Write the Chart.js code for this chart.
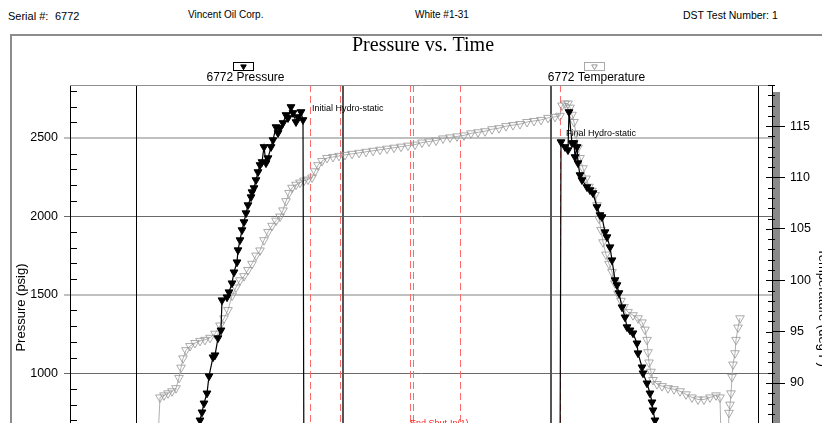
<!DOCTYPE html>
<html>
<head>
<meta charset="utf-8">
<title>Pressure vs. Time</title>
<script src="https://cdn.jsdelivr.net/npm/chart.js@4.4.1/dist/chart.umd.min.js"></script>
<style>
  html, body { margin: 0; padding: 0; background: #fff; }
  body { width: 822px; height: 423px; overflow: hidden; position: relative; }
  .head { position: absolute; top: 10px; line-height: 1; white-space: pre; color: #000;
          font-family: 'Liberation Sans Narrow', 'Liberation Sans', Arial, sans-serif; font-size: 10px; }
  #frame { position: absolute; left: 10px; top: 34px; width: 840px; height: 600px;
           border-left: 2px solid #8c8c8c; border-top: 2px solid #8c8c8c; }
  #chart { position: absolute; left: 0; top: 0; }
</style>
</head>
<body>
<div class="head" style="left:8px; top:11px; font-size:11px">Serial #:</div>
<div class="head" style="left:55px; top:11px; font-size:11px">6772</div>
<div class="head" style="left:188px">Vincent Oil Corp.</div>
<div class="head" style="left:415px">White #1-31</div>
<div class="head" style="left:683px; font-size:10.5px">DST Test Number: 1</div>
<div id="frame"><canvas id="chart" width="822" height="560"></canvas></div>
<script>
// time in minutes from start of the test
const pressTime = [0, 100, 125, 130, 132, 134, 137, 139, 143, 145, 148, 151, 152, 157, 159, 162, 164, 167, 168,
  170, 172, 174, 176, 178, 181, 182, 184, 186, 188, 190, 192, 194, 196, 198, 201, 203, 206, 208, 210, 213,
  216, 218, 221, 223, 226, 228, 231, 233, 234, 270, 340, 390, 481, 490,
  491, 495, 498, 499, 502, 504, 505, 507, 508, 510, 512, 517, 520, 523, 527, 530, 532, 535, 537, 540, 542,
  545, 547, 549, 552, 555, 557, 560, 563, 567, 568, 572, 573, 577, 580, 582, 583, 585, 600, 660, 702];
const pressPsig = [14, 300, 560, 700, 751, 808, 872, 981, 1102, 1115, 1224, 1274, 1466, 1485, 1517, 1574, 1644, 1708, 1785,
  1849, 1913, 1964, 2021, 2072, 2123, 2155, 2181, 2232, 2283, 2328, 2347, 2443, 2340, 2372, 2443, 2487, 2570, 2532, 2564, 2596,
  2647, 2628, 2698, 2660, 2602, 2634, 2666, 2615, 150, 240, 520, 610, 630, 330,
  2474, 2443, 2423, 2666, 2468, 2468, 2379, 2443, 2340, 2264, 2232, 2187, 2168, 2149, 2060, 2009, 1996, 1900, 1868, 1804, 1721,
  1594, 1562, 1511, 1421, 1357, 1294, 1274, 1255, 1191, 1128, 1038, 1000, 936, 872, 815, 764, 700, 420, 60, 15];

const tempTime = [88, 90, 94, 98, 102, 106, 109, 111, 113, 116, 120, 125, 130, 135, 140, 145, 150, 154, 158, 162,
  166, 170, 174, 178, 182, 186, 190, 194, 198, 202, 206, 210, 213, 216, 219, 222, 226, 230, 234, 238,
  242, 245, 248, 252, 257, 263, 269, 275, 282, 289, 296, 303, 310, 317, 324, 331, 338, 345, 352, 359,
  366, 373, 380, 387, 394, 401, 408, 415, 422, 429, 436, 443, 450, 457, 464, 471, 478, 485, 490, 492,
  495, 498, 500, 502, 504, 506, 508, 510, 513, 516, 519, 522, 525, 527, 529, 531, 533, 536, 539, 542,
  545, 548, 551, 554, 558, 563, 568, 572, 575, 577, 578, 579, 581, 583, 587, 592, 598, 604, 610, 616,
  622, 628, 634, 640, 646, 650, 651, 654, 658, 659, 660, 661, 662, 663, 665, 666, 668, 670];
const tempDegF = [84.5, 88.6, 88.8, 89.0, 89.2, 89.5, 90.5, 91.5, 92.4, 93.2, 93.6, 93.9, 94.1, 94.2, 94.4, 94.8, 95.6, 96.3, 97.1, 98.5,
  99.3, 100.0, 100.4, 101.0, 101.6, 102.4, 102.9, 103.9, 104.7, 105.3, 105.8, 106.2, 106.8, 107.7, 108.5, 109.0, 109.3, 109.5, 109.7, 109.8,
  110.0, 110.6, 111.2, 111.6, 111.9, 112.0, 112.1, 112.2, 112.3, 112.4, 112.5, 112.6, 112.7, 112.8, 112.9, 113.0, 113.1, 113.2, 113.4, 113.5,
  113.6, 113.8, 113.9, 114.0, 114.1, 114.3, 114.4, 114.5, 114.7, 114.8, 115.0, 115.1, 115.2, 115.4, 115.5, 115.6, 115.8, 115.9, 116.0, 117.0,
  117.2, 117.2, 116.8, 116.1, 115.4, 114.3, 112.9, 111.9, 110.9, 109.9, 109.1, 108.7, 108.3, 107.3, 106.0, 104.9, 103.7, 102.5, 101.6, 100.8,
  99.7, 98.7, 98.0, 97.4, 96.9, 96.6, 96.3, 95.9, 95.2, 94.2, 93.0, 92.0, 91.1, 90.3, 89.9, 89.7, 89.5, 89.4, 89.2, 88.9,
  88.6, 88.4, 88.4, 88.6, 88.8, 88.6, 84.5, 80.0, 84.5, 87.1, 87.9, 89.0, 90.6, 91.8, 92.9, 94.2, 95.4, 96.3];

const pressLabels = [0, 500, 1000, 1500, 2000, 2500];
const tempLabels = [80, 85, 90, 95, 100, 105, 110, 115];

// test events (minutes)
const eventTime = [66, 240, 270, 273, 340, 343, 390, 481, 490, 688];
const eventKind = ['tool', 'period', 'period', 'valve', 'period', 'period', 'period', 'valve', 'period', 'tool'];

const noteText = ['Initial Hydro-static', 'Final Hydro-static', 'End Shut-In(1)'];
const noteTime = [242, 496, 340];
const notePsig = [2672, 2513, 662];
const noteKind = ['pressure', 'pressure', 'period'];

Chart.defaults.font.family = "'Liberation Sans', Arial, sans-serif";
Chart.defaults.color = '#000';

const eventStyle = {
  tool: { color: '#000', width: 1, dash: [] },
  valve: { color: '#555', width: 2, dash: [] },
  period: { color: '#ff6a6a', width: 1, dash: [7, 4] }
};

const deco = {
  id: 'deco',
  beforeDraw(chart) {
    const { ctx, chartArea: a, scales: { yT } } = chart;
    ctx.save();
    ctx.fillStyle = '#8a8a8a';
    ctx.fillRect(yT.left + 1, a.top + 7, 7, a.bottom - a.top - 7);
    ctx.restore();
  },
  beforeDatasetsDraw(chart) {
    const { ctx, chartArea: a, scales: { x, yP } } = chart;
    ctx.save();
    eventTime.forEach((t, i) => {
      const st = eventStyle[eventKind[i]];
      let px = Math.round(x.getPixelForValue(t));
      if (st.width === 1) px += 0.5;
      ctx.beginPath();
      ctx.strokeStyle = st.color;
      ctx.lineWidth = st.width;
      ctx.setLineDash(st.dash);
      ctx.moveTo(px, a.top);
      ctx.lineTo(px, a.bottom);
      ctx.stroke();
    });
    ctx.setLineDash([]);
    ctx.font = "9px 'Liberation Sans', Arial";
    ctx.textAlign = 'left';
    ctx.textBaseline = 'alphabetic';
    noteText.forEach((s, i) => {
      ctx.fillStyle = noteKind[i] === 'period' ? '#ff2020' : '#000';
      ctx.fillText(s, x.getPixelForValue(noteTime[i]), yP.getPixelForValue(notePsig[i]));
    });
    ctx.restore();
  },
  afterDraw(chart) {
    const { ctx, chartArea: a, scales: { yP, yT } } = chart;
    ctx.save();
    // top edge of the plot
    ctx.strokeStyle = '#909090';
    ctx.lineWidth = 1;
    ctx.beginPath();
    ctx.moveTo(a.left, a.top + 0.5);
    ctx.lineTo(yT.left + 1, a.top + 0.5);
    ctx.stroke();
    // minor ticks
    ctx.strokeStyle = '#000';
    ctx.beginPath();
    yP.ticks.forEach(t => {
      if (t.value % 500 === 0) return;
      const py = Math.round(yP.getPixelForValue(t.value)) + 0.5;
      ctx.moveTo(a.left, py);
      ctx.lineTo(a.left + 7, py);
    });
    yT.ticks.forEach(t => {
      const py = Math.round(yT.getPixelForValue(t.value)) + 0.5;
      const major = t.value % 5 === 0;
      ctx.moveTo(yT.left - (major ? 6 : 4), py);
      ctx.lineTo(yT.left + (major ? 0 : 3), py);
    });
    ctx.stroke();
    // legend: marker box above the label, at quarter points of the plot
    chart.data.datasets.forEach((ds, i) => {
      const cx = Math.round(a.left + a.width * (i === 0 ? 0.25 : 0.75)) - 2.5;
      ctx.strokeStyle = i === 0 ? '#000' : '#aaa';
      ctx.lineWidth = 1;
      ctx.strokeRect(cx - 10, 26.5, 20, 8);
      ctx.fillStyle = ds.pointBackgroundColor;
      ctx.strokeStyle = ds.pointBorderColor;
      Chart.helpers.drawPoint(ctx, { pointStyle: 'triangle', rotation: 180, radius: 3.2, borderWidth: 1 }, cx, 30.5);
      ctx.fillStyle = '#000';
      ctx.font = "12px 'Liberation Sans', Arial";
      ctx.textAlign = 'center';
      ctx.textBaseline = 'middle';
      ctx.fillText(ds.label, cx + 2, 42);
    });
    ctx.restore();
  }
};

const pressPoints = pressTime.map((t, i) => ({ x: t, y: pressPsig[i] }));
const tempPoints = tempTime.map((t, i) => ({ x: t, y: tempDegF[i] }));

new Chart(document.getElementById('chart'), {
  type: 'line',
  data: {
    datasets: [
      {
        label: '6772 Pressure',
        data: pressPoints,
        yAxisID: 'yP',
        borderColor: '#000',
        borderWidth: 1.2,
        pointStyle: 'triangle',
        pointRotation: 180,
        pointRadius: 4.5,
        pointBackgroundColor: '#000',
        pointBorderColor: '#000',
        pointBorderWidth: 1,
        tension: 0
      },
      {
        label: '6772 Temperature',
        data: tempPoints,
        yAxisID: 'yT',
        borderColor: '#b0b0b0',
        borderWidth: 1,
        pointStyle: 'triangle',
        pointRotation: 180,
        pointRadius: 5,
        pointBackgroundColor: 'rgba(0,0,0,0)',
        pointBorderColor: '#959595',
        pointBorderWidth: 0.8,
        tension: 0
      }
    ]
  },
  options: {
    responsive: false,
    animation: false,
    events: [],
    layout: { padding: { left: 0, right: 0, top: 0, bottom: 66 } },
    plugins: {
      legend: { display: false },
      tooltip: { enabled: false },
      title: {
        display: true,
        text: 'Pressure vs. Time',
        color: '#000',
        font: { family: "'Liberation Serif', 'Times New Roman', serif", size: 20, weight: 'normal', lineHeight: 1 },
        padding: { top: 0, bottom: 29 }
      }
    },
    scales: {
      x: { type: 'linear', min: 0, max: 702, display: false },
      yP: {
        type: 'linear',
        position: 'left',
        min: 0,
        max: 2838,
        afterBuildTicks: (s) => {
          const t = [];
          for (let v = 0; v <= 2800; v += 100) t.push({ value: v });
          s.ticks = t;
        },
        afterFit: (s) => { s.width = 58; },
        ticks: {
          autoSkip: false,
          padding: 6,
          color: '#000',
          font: { size: 12.5 },
          callback: (v) => pressLabels.includes(v) ? String(v) : ''
        },
        grid: {
          color: (c) => c.tick.value % 500 ? 'rgba(0,0,0,0)' : (c.tick.value % 1000 ? '#c0c0c0' : '#6a6a6a'),
          lineWidth: (c) => c.tick.value % 1000 ? 2 : 1,
          tickLength: 6,
          tickColor: (c) => c.tick.value % 500 ? 'rgba(0,0,0,0)' : (c.tick.value % 1000 ? '#c0c0c0' : '#6a6a6a')
        },
        border: { display: true, color: '#000', width: 1 },
        title: { display: true, text: 'Pressure (psig)', color: '#000', font: { size: 13 }, padding: { top: 2, bottom: 0 } }
      },
      yT: {
        type: 'linear',
        position: 'right',
        min: 75.7,
        max: 119,
        afterBuildTicks: (s) => {
          const t = [];
          for (let v = 76; v <= 119; v += 1) t.push({ value: v });
          s.ticks = t;
        },
        afterFit: (s) => { s.width = 62; },
        ticks: {
          autoSkip: false,
          padding: 5,
          color: '#000',
          font: { size: 12.5 },
          callback: (v) => tempLabels.includes(v) ? String(v) : ''
        },
        grid: {
          drawOnChartArea: false,
          tickLength: 13,
          tickColor: (c) => c.tick.value % 5 ? 'rgba(0,0,0,0)' : '#000'
        },
        border: { display: true, color: '#000', width: 1 },
        title: { display: true, text: 'Temperature (deg F)', color: '#000', font: { size: 13 }, padding: { top: 4, bottom: 0 } }
      }
    }
  },
  plugins: [deco]
});
</script>
</body>
</html>
